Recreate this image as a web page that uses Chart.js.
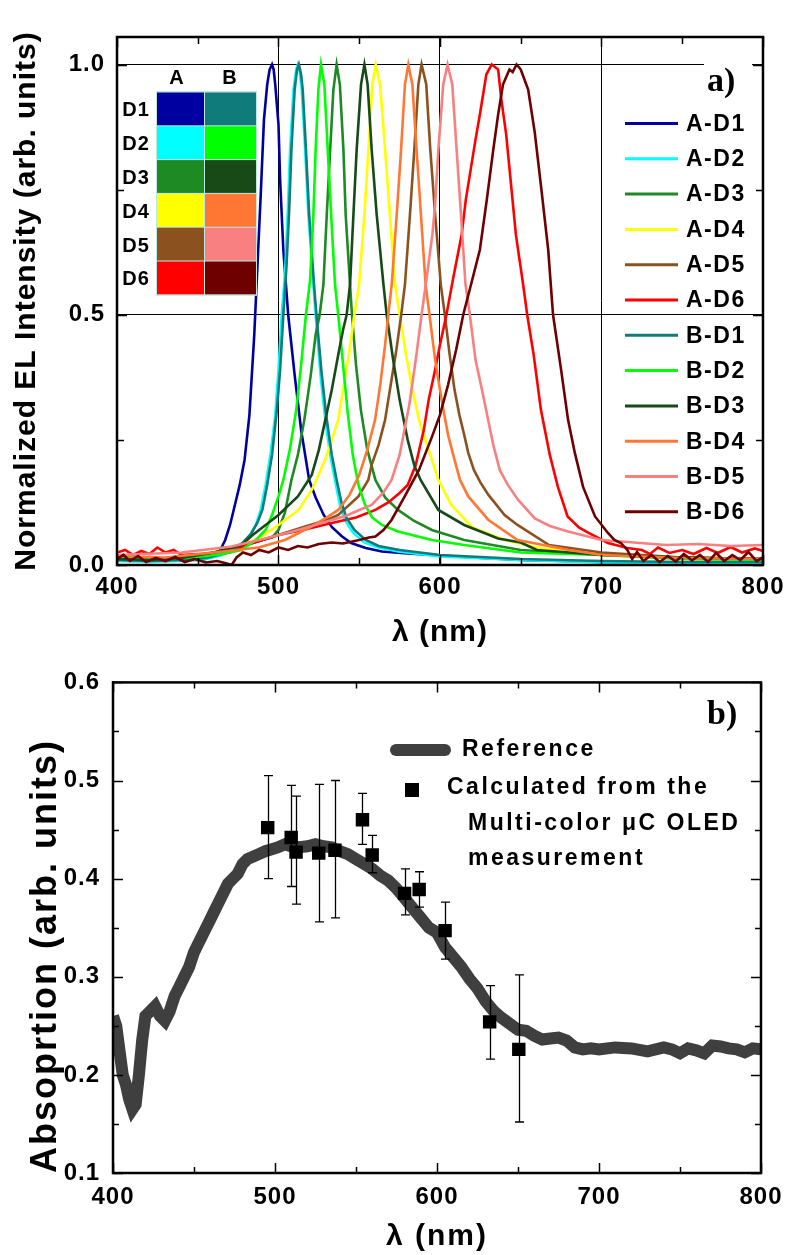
<!DOCTYPE html>
<html>
<head>
<meta charset="utf-8">
<script src="https://cdn.jsdelivr.net/npm/chart.js@4.4.1/dist/chart.umd.min.js"></script>
<style>
  html, body { margin: 0; padding: 0; background: #fff; }
  #wrap { position: relative; width: 791px; height: 1255px; overflow: hidden; }
  canvas { position: absolute; left: 0; }
  #elChart { top: 0; }
  #absChart { top: 655px; }
</style>
</head>
<body>
<div id="wrap">
  <canvas id="elChart" width="791" height="655"></canvas>
  <canvas id="absChart" width="791" height="600"></canvas>
</div>
<script>
const FONT = "'Liberation Sans', Arial, sans-serif";
const SERIF = "'Liberation Serif', 'Times New Roman', serif";

// ---- panel a) normalized EL spectra, [wavelength nm, intensity] ----
const A_D1 = [[400,0.012],[410,0.008],[420,0.01],[430,0.008],[440,0.01],[450,0.01],[455,0.012],[460,0.02],[464,0.03],[467,0.05],[470,0.08],[473,0.12],[476,0.16],[479,0.21],[482,0.3],[485,0.46],[487,0.6],[489,0.74],[491,0.89],[493,0.96],[494.5,0.99],[496,1.0],[497,0.99],[498,0.96],[500,0.88],[501,0.77],[503,0.63],[506,0.5],[510,0.38],[514,0.27],[519,0.17],[523,0.135],[528,0.1],[533,0.076],[539,0.058],[545,0.044],[554,0.034],[564,0.027],[580,0.023],[595,0.02],[620,0.015],[650,0.01],[700,0.006],[750,0.004],[800,0.004]];
const A_D2 = [[400,0.008],[420,0.006],[440,0.008],[455,0.012],[465,0.02],[472,0.03],[477,0.04],[482,0.058],[486,0.08],[489,0.11],[492,0.16],[495,0.22],[498,0.3],[500,0.39],[502,0.5],[504,0.58],[505.7,0.7],[507.2,0.83],[509.3,0.95],[511,0.99],[512,1.0],[513,0.99],[514.4,0.95],[516.5,0.83],[518.5,0.7],[521.6,0.56],[523,0.5],[526,0.38],[529,0.29],[532,0.22],[535,0.17],[538,0.12],[541,0.09],[546,0.065],[553,0.045],[562,0.035],[574,0.027],[600,0.017],[650,0.01],[700,0.005],[750,0.003],[800,0.003]];
const A_D3 = [[400,0.012],[420,0.01],[440,0.012],[460,0.02],[480,0.04],[490,0.05],[496,0.055],[500,0.07],[504,0.105],[508,0.17],[512,0.22],[516,0.29],[520,0.38],[523,0.46],[525.5,0.5],[527.8,0.56],[529.9,0.7],[532,0.83],[534,0.95],[536,1.0],[538,0.96],[540.2,0.83],[541.6,0.7],[544.3,0.56],[545.5,0.5],[548,0.4],[551,0.31],[555,0.23],[560,0.17],[566,0.135],[574,0.11],[584,0.088],[595,0.07],[615,0.05],[650,0.03],[700,0.02],[750,0.015],[800,0.012]];
const A_D4 = [[400,0.01],[420,0.012],[440,0.014],[460,0.025],[475,0.037],[487.6,0.053],[500,0.08],[512.4,0.11],[520.6,0.15],[528.9,0.21],[533,0.25],[537,0.29],[541,0.37],[544,0.43],[547,0.5],[549.9,0.56],[553.2,0.7],[555.7,0.83],[558.1,0.96],[560.2,1.0],[562.9,0.96],[566,0.83],[569,0.7],[572.2,0.56],[575,0.5],[579,0.42],[583,0.35],[587,0.29],[591,0.25],[595,0.21],[599,0.17],[607,0.12],[620,0.075],[640,0.05],[660,0.035],[700,0.02],[750,0.012],[800,0.01]];
const A_D5 = [[400,0.012],[430,0.014],[460,0.025],[480,0.04],[500,0.06],[516.5,0.077],[530,0.09],[537,0.1],[549.5,0.137],[555.6,0.17],[557.7,0.2],[562,0.24],[566,0.29],[570,0.37],[573,0.43],[576,0.5],[578.3,0.56],[581.4,0.7],[584.1,0.83],[586.6,0.96],[588.6,1.0],[591.5,0.96],[594,0.83],[597,0.7],[600.5,0.56],[603,0.5],[606,0.42],[609,0.35],[612,0.3],[615,0.26],[617.5,0.224],[621,0.19],[625,0.165],[630,0.14],[640,0.1],[648,0.08],[667.5,0.04],[700,0.025],[750,0.015],[800,0.012]];
const A_D6 = [[400,0.025],[405,0.03],[410,0.02],[415,0.028],[420,0.022],[425,0.035],[430,0.025],[435,0.03],[440,0.02],[450,0.022],[460,0.02],[470,0.025],[480,0.04],[490,0.05],[500,0.06],[515,0.07],[533,0.084],[548,0.095],[560,0.11],[568,0.125],[575,0.144],[580,0.16],[585,0.2],[590,0.27],[593,0.33],[597,0.39],[600,0.44],[604,0.5],[608,0.57],[613.4,0.66],[616,0.73],[619.5,0.8],[622,0.85],[624.7,0.9],[628.7,0.98],[632,1.0],[636,0.99],[638,0.93],[641,0.86],[644,0.76],[647,0.66],[651.5,0.56],[654,0.5],[658,0.42],[662.5,0.31],[668,0.22],[673,0.156],[679,0.097],[686,0.075],[692,0.064],[704,0.044],[716,0.034],[725,0.03],[730,0.022],[735,0.035],[742,0.024],[750,0.03],[757,0.022],[765,0.034],[772,0.024],[780,0.036],[787,0.025],[795,0.033],[800,0.028]];
const B_D1 = [[400,0.01],[420,0.008],[440,0.01],[455,0.014],[465,0.022],[472,0.032],[478,0.045],[483,0.062],[487,0.085],[490,0.11],[493,0.16],[496,0.22],[499,0.31],[501,0.39],[503,0.5],[505,0.6],[506.5,0.7],[508,0.83],[510,0.95],[511.5,0.99],[512.6,1.0],[514,0.98],[515,0.95],[517,0.83],[519,0.7],[522,0.56],[523.5,0.5],[526.5,0.39],[529.5,0.3],[533,0.22],[536,0.17],[539,0.125],[542,0.095],[547,0.07],[554,0.05],[562,0.038],[575,0.03],[600,0.02],[650,0.012],[700,0.008],[750,0.006],[800,0.006]];
const B_D2 = [[400,0.015],[420,0.012],[440,0.014],[455,0.018],[465,0.022],[477,0.03],[486,0.05],[492,0.07],[496,0.1],[500,0.137],[503,0.17],[507,0.23],[511,0.31],[514,0.4],[517,0.5],[519.6,0.57],[521.6,0.7],[523,0.83],[524.7,0.95],[526.3,1.0],[528.4,0.96],[530.5,0.83],[532.6,0.7],[535,0.56],[537,0.5],[540,0.4],[543,0.3],[546,0.22],[549.5,0.16],[553.6,0.12],[558,0.095],[564,0.08],[574,0.067],[595,0.05],[615,0.04],[650,0.025],[700,0.02],[750,0.012],[800,0.01]];
const B_D3 = [[400,0.012],[420,0.01],[440,0.014],[460,0.025],[477,0.04],[484,0.06],[492,0.08],[500,0.1],[512,0.137],[520.6,0.18],[525,0.23],[529,0.29],[533,0.35],[537,0.42],[540,0.47],[542.2,0.5],[544.3,0.56],[546.4,0.7],[548.4,0.83],[551.1,0.96],[553.2,1.0],[555.2,0.96],[557.7,0.83],[560.8,0.7],[565,0.56],[567,0.5],[571,0.41],[575,0.33],[580,0.25],[584,0.2],[588,0.17],[599,0.11],[615,0.08],[636,0.053],[650,0.045],[660,0.03],[700,0.02],[750,0.015],[800,0.012]];
const B_D4 = [[400,0.018],[430,0.015],[460,0.025],[487.6,0.035],[504,0.05],[520.6,0.077],[530,0.095],[537,0.11],[544,0.14],[550,0.18],[555,0.23],[559.8,0.29],[563,0.36],[566,0.44],[568,0.5],[570.1,0.56],[573.2,0.7],[575.9,0.83],[578.3,0.96],[580.4,1.0],[582.9,0.96],[585.5,0.83],[588.2,0.7],[591.1,0.56],[593.5,0.5],[597,0.41],[601,0.33],[605,0.26],[609,0.21],[612.4,0.17],[617.5,0.137],[630,0.09],[648,0.05],[680,0.03],[700,0.02],[750,0.014],[800,0.012]];
const B_D5 = [[400,0.02],[440,0.025],[471,0.037],[491.8,0.053],[510,0.068],[522.7,0.08],[535,0.092],[543,0.1],[550,0.11],[557.7,0.12],[565,0.145],[570,0.17],[575,0.22],[581,0.32],[585,0.41],[588.6,0.5],[592,0.58],[595.3,0.66],[597,0.72],[599,0.83],[602,0.96],[604.7,1.0],[607.6,0.96],[610.3,0.83],[613,0.7],[615.8,0.56],[618.5,0.5],[622,0.41],[626,0.35],[629.8,0.29],[633,0.24],[637,0.19],[642,0.16],[648.4,0.13],[658.7,0.093],[668,0.078],[679.3,0.067],[700,0.05],[720,0.045],[740,0.04],[760,0.042],[780,0.038],[800,0.04]];
const B_D6 = [[400,0.012],[404,0.02],[408,0.008],[413,0.018],[418,0.006],[424,0.014],[430,0.008],[436,0.016],[442,0.006],[448,0.012],[455,0.005],[462,0.008],[468,0.003],[471,0.0],[474,0.015],[478,0.025],[483,0.02],[488,0.03],[494,0.025],[500,0.035],[506,0.03],[512,0.038],[518,0.035],[525,0.042],[533,0.045],[540,0.043],[550,0.05],[556,0.055],[560,0.057],[565,0.07],[570,0.09],[578,0.136],[587,0.19],[595,0.256],[600,0.3],[605,0.36],[610,0.43],[614.4,0.5],[619.5,0.564],[624.7,0.63],[629,0.73],[633,0.83],[636,0.9],[639,0.96],[643,0.99],[645,0.985],[647.4,1.0],[650,0.99],[654.6,0.95],[658.7,0.864],[662.8,0.75],[667,0.63],[670,0.5],[675,0.39],[679.3,0.29],[683.5,0.224],[688.6,0.156],[696,0.097],[704,0.064],[708,0.05],[712,0.044],[716,0.03],[719,0.012],[722,0.026],[726,0.008],[731,0.02],[736,0.006],[741,0.018],[746,0.007],[751,0.022],[756,0.009],[761,0.02],[766,0.006],[771,0.024],[776,0.008],[781,0.02],[786,0.01],[791,0.026],[796,0.008],[800,0.015]];

const elLabels = ['A-D1','A-D2','A-D3','A-D4','A-D5','A-D6','B-D1','B-D2','B-D3','B-D4','B-D5','B-D6'];
const elSeries = [A_D1, A_D2, A_D3, A_D4, A_D5, A_D6, B_D1, B_D2, B_D3, B_D4, B_D5, B_D6];
const elColors = ['#0000a0','#00ffff','#1d8a24','#ffff00','#8b5220','#ff0000',
                  '#0f7b7b','#00ff00','#174a17','#ff7733','#f88080','#6e0000'];
const elXTicks = [400, 500, 600, 700, 800];
const elYTicks = [0, 0.5, 1.0];
const devices = ['D1','D2','D3','D4','D5','D6'];

// ---- panel b) absorption ----
const refSpectrum = [[400,0.26],[402,0.25],[404,0.225],[406,0.2],[408,0.19],[410,0.175],[412,0.165],[414,0.17],[416,0.2],[418,0.235],[420,0.26],[423,0.265],[426,0.27],[429,0.26],[432,0.255],[435,0.265],[438,0.28],[441,0.29],[444,0.3],[447,0.31],[450,0.325],[453,0.335],[456,0.345],[459,0.355],[462,0.365],[465,0.375],[468,0.385],[471,0.395],[474,0.4],[477,0.405],[480,0.415],[483,0.42],[486,0.422],[490,0.425],[494,0.428],[498,0.43],[502,0.432],[506,0.435],[510,0.433],[515,0.432],[520,0.433],[525,0.435],[530,0.433],[535,0.432],[540,0.428],[545,0.425],[550,0.42],[555,0.415],[560,0.41],[565,0.403],[570,0.398],[575,0.39],[580,0.38],[585,0.37],[590,0.36],[595,0.35],[600,0.345],[605,0.33],[610,0.32],[615,0.31],[620,0.298],[625,0.288],[630,0.275],[635,0.265],[640,0.258],[645,0.252],[650,0.246],[655,0.245],[660,0.24],[665,0.236],[670,0.237],[675,0.238],[680,0.235],[685,0.228],[690,0.226],[695,0.227],[700,0.226],[710,0.228],[720,0.227],[730,0.224],[740,0.228],[745,0.226],[750,0.222],[755,0.227],[760,0.225],[765,0.222],[770,0.23],[775,0.229],[780,0.227],[785,0.226],[790,0.223],[795,0.227],[800,0.226]];
const calcNm  = [495.5, 510, 513, 527, 537, 554, 560, 580, 589, 605, 632.5, 650.5];
const calcAbs = [0.452, 0.442, 0.427, 0.426, 0.429, 0.46, 0.424, 0.385, 0.389, 0.347, 0.254, 0.226];
const calcHi  = [0.505, 0.495, 0.484, 0.496, 0.5, 0.487, 0.444, 0.41, 0.407, 0.376, 0.291, 0.302];
const calcLo  = [0.4, 0.392, 0.374, 0.356, 0.36, 0.435, 0.406, 0.363, 0.371, 0.318, 0.216, 0.152];
const absXTicks = [400, 500, 600, 700, 800];
const absYTicks = [0.1, 0.2, 0.3, 0.4, 0.5, 0.6];

// titles get wider letter spacing than tick labels (ticks are drawn after datasets)
function spacing(titleGap, tickGap) {
  return {
    id: 'spacing',
    beforeDraw(chart) { chart.ctx.letterSpacing = titleGap; },
    beforeDatasetsDraw(chart) { chart.ctx.letterSpacing = tickGap; },
    afterDraw(chart) { chart.ctx.letterSpacing = '0px'; }
  };
}

// inward tick marks on all four sides + frame
function drawFrame(chart, xMajor, xMinor, yMajor, yMinor, majLen, minLen) {
  const { ctx, chartArea: a, scales: { x, y } } = chart;
  ctx.save();
  ctx.strokeStyle = '#000';
  ctx.lineWidth = 1.5;
  ctx.beginPath();
  const xt = (v, len) => {
    const px = Math.round(x.getPixelForValue(v)) + 0.5;
    ctx.moveTo(px, a.bottom); ctx.lineTo(px, a.bottom - len);
    ctx.moveTo(px, a.top); ctx.lineTo(px, a.top + len);
  };
  const yt = (v, len) => {
    const py = Math.round(y.getPixelForValue(v)) + 0.5;
    ctx.moveTo(a.left, py); ctx.lineTo(a.left + len, py);
    ctx.moveTo(a.right, py); ctx.lineTo(a.right - len, py);
  };
  xMajor.forEach(v => xt(v, majLen));
  xMinor.forEach(v => xt(v, minLen));
  yMajor.forEach(v => yt(v, majLen));
  yMinor.forEach(v => yt(v, minLen));
  ctx.stroke();
  ctx.lineWidth = 2.5;
  ctx.strokeRect(a.left, a.top, a.right - a.left, a.bottom - a.top);
  ctx.restore();
}

const elDecor = {
  id: 'elDecor',
  afterDraw(chart) {
    const ctx = chart.ctx;
    ctx.save();
    // white patch behind the panel label
    ctx.fillStyle = '#fff';
    ctx.fillRect(704, 56, 48, 44);
    ctx.fillStyle = '#000';
    ctx.letterSpacing = '0px';
    ctx.font = `bold 34px ${SERIF}`;
    ctx.textBaseline = 'middle';
    ctx.textAlign = 'left';
    ctx.fillText('a)', 707, 82);

    // legend
    ctx.font = `bold 23px ${FONT}`;
    ctx.letterSpacing = '1.5px';
    chart.data.datasets.forEach((ds, i) => {
      const yy = 123.5 + 35.3 * i;
      ctx.strokeStyle = ds.borderColor;
      ctx.lineWidth = 3;
      ctx.beginPath(); ctx.moveTo(625, yy); ctx.lineTo(678, yy); ctx.stroke();
      ctx.fillStyle = '#000';
      ctx.fillText(ds.label, 686, yy + 1);
    });

    // colour key table
    ctx.font = `bold 20px ${FONT}`;
    ctx.letterSpacing = '1px';
    ctx.textAlign = 'center';
    ctx.fillText('A', 177, 78);
    ctx.fillText('B', 230, 78);
    const top = 92, rowH = 33.8;
    ctx.fillStyle = '#bfe8e0';
    ctx.fillRect(156, top - 1, 101, rowH * 6 + 2);
    devices.forEach((d, r) => {
      const y0 = top + r * rowH;
      ctx.fillStyle = elColors[r];
      ctx.fillRect(157, y0 + 0.5, 47, rowH - 1);
      ctx.fillStyle = elColors[r + 6];
      ctx.fillRect(205, y0 + 0.5, 51, rowH - 1);
      ctx.fillStyle = '#000';
      ctx.fillText(d, 136, y0 + rowH / 2 + 2);
    });
    ctx.restore();
    drawFrame(chart, elXTicks, [450, 550, 650, 750], elYTicks, [0.25, 0.75], 10, 7);
  }
};

const absDecor = {
  id: 'absDecor',
  afterDatasetsDraw(chart) {
    const { ctx, scales: { x, y } } = chart;
    ctx.save();
    ctx.strokeStyle = '#000';
    ctx.lineWidth = 1.3;
    ctx.beginPath();
    calcNm.forEach((nm, i) => {
      const px = Math.round(x.getPixelForValue(nm)) + 0.5;
      const hi = y.getPixelForValue(calcHi[i]);
      const lo = y.getPixelForValue(calcLo[i]);
      ctx.moveTo(px, hi); ctx.lineTo(px, lo);
      ctx.moveTo(px - 4.5, hi); ctx.lineTo(px + 4.5, hi);
      ctx.moveTo(px - 4.5, lo); ctx.lineTo(px + 4.5, lo);
    });
    ctx.stroke();
    ctx.restore();
  },
  afterDraw(chart) {
    const ctx = chart.ctx;
    ctx.save();
    ctx.fillStyle = '#000';
    ctx.textBaseline = 'middle';
    ctx.textAlign = 'left';
    ctx.letterSpacing = '0px';
    ctx.font = `bold 34px ${SERIF}`;
    ctx.fillText('b)', 707, 60);

    // legend
    ctx.strokeStyle = '#3f3f3f';
    ctx.lineWidth = 12;
    ctx.lineCap = 'round';
    ctx.beginPath(); ctx.moveTo(396, 95); ctx.lineTo(445, 95); ctx.stroke();
    ctx.fillRect(405, 128, 14, 14);
    ctx.font = `bold 23px ${FONT}`;
    ctx.letterSpacing = '2.5px';
    ctx.fillText('Reference', 462, 95);
    ctx.fillText('Calculated from the', 447, 133);
    ctx.fillText('Multi-color \u03bcC OLED', 468, 169);
    ctx.fillText('measurement', 468, 204);
    ctx.restore();
    drawFrame(chart, absXTicks, [450, 550, 650, 750], absYTicks,
      [0.15, 0.25, 0.35, 0.45, 0.55], 10, 6);
  }
};

const tickFont = { family: FONT, size: 24, weight: 'bold' };

new Chart(document.getElementById('elChart'), {
  type: 'line',
  data: {
    datasets: elSeries.map((s, i) => ({
      label: elLabels[i],
      data: s.map(([x, y]) => ({ x, y })),
      borderColor: elColors[i],
      borderWidth: 2.6,
      pointRadius: 0,
      tension: 0,
      order: -i
    }))
  },
  options: {
    responsive: false,
    animation: false,
    layout: { padding: { top: 37, right: 26, left: 0, bottom: 0 } },
    plugins: { legend: { display: false }, tooltip: { enabled: false } },
    scales: {
      x: {
        type: 'linear', min: 400, max: 800,
        afterBuildTicks: s => { s.ticks = elXTicks.map(v => ({ value: v })); },
        afterFit: s => { s.height = 90; },
        grid: { color: '#000', lineWidth: 1, drawTicks: false },
        border: { color: '#000', width: 2 },
        ticks: { color: '#000', font: tickFont, padding: 8, maxRotation: 0, z: 1 },
        title: { display: true, text: '\u03bb (nm)', color: '#000',
                 font: { family: FONT, size: 30, weight: 'bold' }, padding: { top: 0, bottom: 4 } }
      },
      y: {
        min: 0, max: 1.055,
        afterBuildTicks: s => { s.ticks = elYTicks.map(v => ({ value: v })); },
        afterFit: s => { s.width = 117; },
        grid: { color: '#000', lineWidth: 1, drawTicks: false },
        border: { color: '#000', width: 2 },
        ticks: { color: '#000', font: tickFont, padding: 12, z: 1, callback: v => v.toFixed(1) },
        title: { display: true, text: 'Normalized EL Intensity (arb. units)', color: '#000',
                 font: { family: FONT, size: 30, weight: 'bold' }, padding: { top: 9, bottom: 0 } }
      }
    }
  },
  plugins: [spacing('1px', '1px'), elDecor]
});

new Chart(document.getElementById('absChart'), {
  type: 'line',
  data: {
    datasets: [
      {
        label: 'Calculated from the Multi-color \u03bcC OLED measurement',
        data: calcNm.map((x, i) => ({ x, y: calcAbs[i] })),
        showLine: false,
        pointStyle: 'rect',
        pointRadius: 9.5,
        pointBackgroundColor: '#000',
        pointBorderWidth: 0
      },
      {
        label: 'Reference',
        data: refSpectrum.map(([x, y]) => ({ x, y })),
        borderColor: '#3f3f3f',
        borderWidth: 12,
        pointRadius: 0,
        tension: 0
      }
    ]
  },
  options: {
    responsive: false,
    animation: false,
    layout: { padding: { top: 17, right: 26, left: 0, bottom: 0 } },
    plugins: { legend: { display: false }, tooltip: { enabled: false } },
    scales: {
      x: {
        type: 'linear', min: 400, max: 800,
        afterBuildTicks: s => { s.ticks = absXTicks.map(v => ({ value: v })); },
        afterFit: s => { s.height = 82; },
        grid: { display: false, drawTicks: false },
        border: { color: '#000', width: 2 },
        ticks: { color: '#000', font: tickFont, padding: 10, maxRotation: 0, z: 1 },
        title: { display: true, text: '\u03bb (nm)', color: '#000',
                 font: { family: FONT, size: 30, weight: 'bold' }, padding: { top: 0, bottom: 0 } }
      },
      y: {
        min: 0.1, max: 0.6,
        afterBuildTicks: s => { s.ticks = absYTicks.map(v => ({ value: v })); },
        afterFit: s => { s.width = 113; },
        grid: { display: false, drawTicks: false },
        border: { color: '#000', width: 2 },
        ticks: { color: '#000', font: tickFont, padding: 13, z: 1, callback: v => v.toFixed(1) },
        title: { display: true, text: 'Absoprtion (arb. units)', color: '#000', align: 'start',
                 font: { family: FONT, size: 36, weight: 'bold' }, padding: { top: 24, bottom: 0 } }
      }
    }
  },
  plugins: [spacing('2px', '1px'), absDecor]
});
</script>
</body>
</html>
